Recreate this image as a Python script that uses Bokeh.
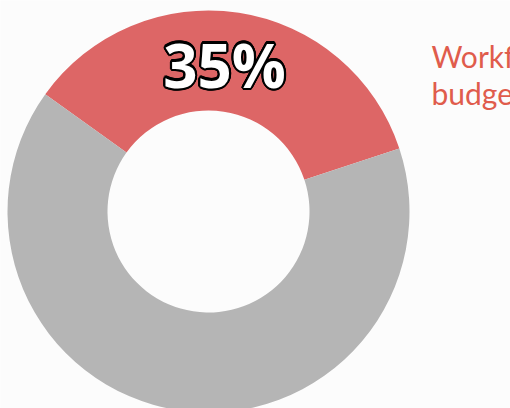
import numpy as np
from bokeh.plotting import figure
from bokeh.models import Range1d, ColumnDataSource
from bokeh.core.properties import value
from bokeh.embed import file_html
from bokeh.resources import INLINE

categories = ["Workforce budget", "Other"]
values = [35, 65]
colors = ["#dd6666", "#b5b5b5"]
pct_label = "35%"
side_label = ["Workforce", "budget"]

W, H = 510, 408
cx, cy = 208, H - 211
r_in, r_out = 101, 201
offset_deg = 18.3

fracs = np.array(values, dtype=float) / sum(values)
starts = np.radians(offset_deg + 360 * np.concatenate([[0], np.cumsum(fracs)[:-1]]))
ends = np.radians(offset_deg + 360 * np.cumsum(fracs))

src = ColumnDataSource(dict(start=starts, end=ends, color=colors, cat=categories))

p = figure(width=W, height=H, output_backend="svg", toolbar_location=None,
           x_range=Range1d(0, W), y_range=Range1d(0, H), min_border=0)
p.axis.visible = False
p.grid.visible = False
p.outline_line_color = None
p.background_fill_color = "#fcfcfc"
p.border_fill_color = "#fcfcfc"

p.annular_wedge(x=cx, y=cy, inner_radius=r_in, outer_radius=r_out,
                start_angle="start", end_angle="end", fill_color="color",
                line_color=None, source=src)

tx, ty = 224, H - 64
angs = np.linspace(0, 2 * np.pi, 16, endpoint=False)
for rr in (1.0, 2.2):
    p.text(x=list(tx + rr * np.cos(angs)), y=list(ty + rr * np.sin(angs)),
           text=[pct_label] * len(angs), text_align="center",
           text_baseline="middle", text_font=value("Open Sans"),
           text_font_style="bold", text_font_size="60px", text_color="black")
p.text(x=[tx], y=[ty], text=[pct_label], text_align="center",
       text_baseline="middle", text_font=value("Open Sans"),
       text_font_style="bold", text_font_size="60px", text_color="white")

p.text(x=[431, 431], y=[H - 55, H - 92], text=side_label, text_align="left",
       text_baseline="alphabetic", text_font=value("Lato"),
       text_font_size="30px", text_color="#e05c4c")

open("out.html", "w").write(file_html(p, INLINE))
